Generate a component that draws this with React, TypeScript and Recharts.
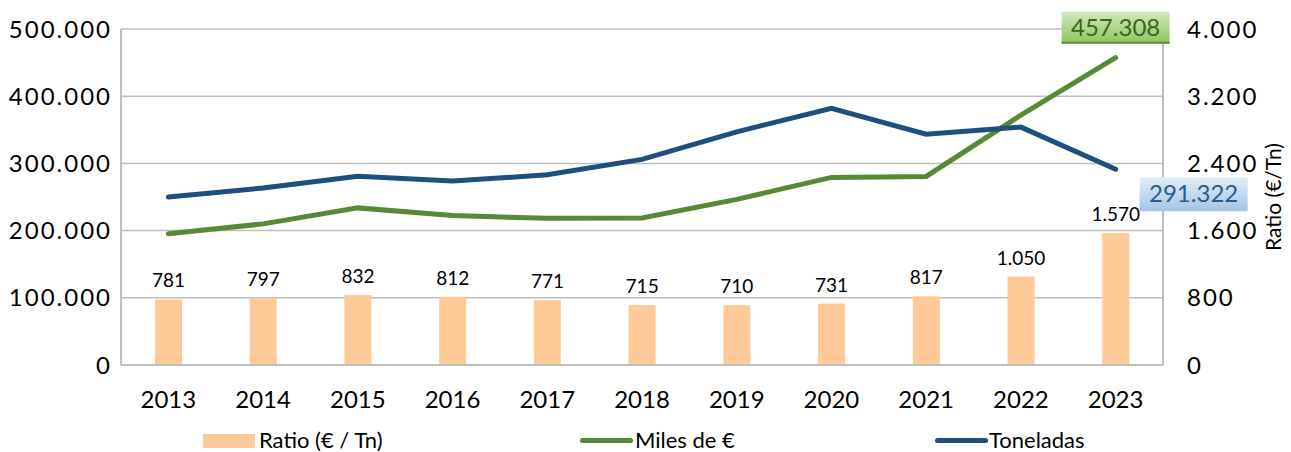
import React from 'react';
import { ComposedChart, Bar, Line, XAxis, YAxis, CartesianGrid, LabelList } from 'recharts';

const years = ['2013', '2014', '2015', '2016', '2017', '2018', '2019', '2020', '2021', '2022', '2023'];
const ratio = [781, 797, 832, 812, 771, 715, 710, 731, 817, 1050, 1570];
const miles = [195300, 210000, 233800, 222300, 218200, 218800, 246400, 279200, 280600, 371700, 457308];
const toneladas = [250100, 263400, 281000, 273800, 283000, 306000, 347000, 382000, 343500, 354000, 291322];
const leftTicks = [0, 100000, 200000, 300000, 400000, 500000];
const rightTicks = [0, 800, 1600, 2400, 3200, 4000];

const chartData = years.map((y, i) => ({
  year: y,
  ratio: ratio[i],
  miles: miles[i],
  toneladas: toneladas[i],
}));

const FONT = 'Lato, "Open Sans", sans-serif';
const GREEN = '#578a33';
const BLUE = '#1f4f7e';
const PEACH = '#ffca97';
const GRID = '#bfbfbf';

// thousands with "." like the spanish excel format
const fmt = (v: number) => String(Math.round(v)).replace(/\B(?=(\d{3})+(?!\d))/g, '.');

const lastIdx = years.length - 1;

function GreenEnd(props: any) {
  const { x, y, index, value } = props;
  if (index !== lastIdx) return null;
  const w = 108, h = 32;
  const cx = x, cy = y - 30;
  return (
    <g>
      <rect x={cx - w / 2} y={cy - h / 2} width={w} height={h} fill="url(#gGreen)" />
      <rect x={cx - w / 2} y={cy + h / 2 - 2} width={w} height={2} fill="#5f8f3a" />
      <text x={cx} y={cy + 8} textAnchor="middle" fontSize={24} fill="#3b6523" fontFamily={FONT}>
        {fmt(value)}
      </text>
    </g>
  );
}

function BlueEnd(props: any) {
  const { x, y, index, value } = props;
  if (index !== lastIdx) return null;
  const w = 108, h = 34;
  const cx = x + 78, cy = y + 25;
  return (
    <g>
      <rect x={cx - w / 2} y={cy - h / 2} width={w} height={h} fill="url(#gBlue)" />
      <text x={cx} y={cy + 8} textAnchor="middle" fontSize={24} fill="#2a5a8a" fontFamily={FONT}>
        {fmt(value)}
      </text>
    </g>
  );
}

function RightTitle(props: any) {
  const { viewBox } = props;
  const x = viewBox.x + 109;
  const y = viewBox.y + viewBox.height / 2;
  return (
    <text x={x} y={y} transform={`rotate(-90 ${x} ${y})`} textAnchor="middle" dominantBaseline="central"
      fontSize={21} fill="#000" fontFamily={FONT}>
      Ratio (€/Tn)
    </text>
  );
}

function LegendBox() {
  const txt: React.CSSProperties = { position: 'absolute', top: 0, fontSize: 22, lineHeight: '28px', fontFamily: FONT, color: '#000', whiteSpace: 'nowrap' };
  return (
    <div style={{ position: 'absolute', left: 0, top: 426, width: 1291, height: 28 }}>
      <div style={{ position: 'absolute', left: 203, top: 8, width: 52, height: 14, background: PEACH }} />
      <div style={{ ...txt, left: 259 }}>Ratio (€ / Tn)</div>
      <div style={{ position: 'absolute', left: 580, top: 12, width: 53, height: 5, borderRadius: 3, background: GREEN }} />
      <div style={{ ...txt, left: 635 }}>Miles de €</div>
      <div style={{ position: 'absolute', left: 935, top: 12, width: 53, height: 5, borderRadius: 3, background: BLUE }} />
      <div style={{ ...txt, left: 989 }}>Toneladas</div>
    </div>
  );
}

export default function App() {
  return (
    <div style={{ position: 'absolute', left: 0, top: 0, width: 1291, height: 452, background: '#fff' }}>
      <ComposedChart width={1291} height={452} data={chartData} margin={{ top: 29, right: 0, bottom: 57, left: 0 }}>
        <defs>
          <linearGradient id="gGreen" x1="0" y1="0" x2="0" y2="1">
            <stop offset="0%" stopColor="#d3e8bd" />
            <stop offset="100%" stopColor="#8fc45d" />
          </linearGradient>
          <linearGradient id="gBlue" x1="0" y1="0" x2="0" y2="1">
            <stop offset="0%" stopColor="#e2ecf7" />
            <stop offset="100%" stopColor="#a3c5e8" />
          </linearGradient>
        </defs>
        <CartesianGrid vertical={false} stroke={GRID} strokeWidth={1.5} yAxisId="left" />
        <XAxis
          dataKey="year"
          height={30}
          axisLine={{ stroke: GRID, strokeWidth: 2 }}
          tickLine={false}
          tickMargin={20}
          tick={{ fontSize: 24, fill: '#000', fontFamily: FONT }}
        />
        <YAxis
          yAxisId="left"
          orientation="left"
          width={121}
          domain={[0, 500000]}
          ticks={leftTicks}
          tickFormatter={fmt}
          axisLine={{ stroke: GRID, strokeWidth: 2 }}
          tickLine={false}
          tickMargin={3}
          tick={{ fontSize: 24, fill: '#000', fontFamily: FONT, letterSpacing: 2 }}
        />
        <YAxis
          yAxisId="right"
          orientation="right"
          width={128}
          domain={[0, 4000]}
          ticks={rightTicks}
          tickFormatter={fmt}
          axisLine={{ stroke: GRID, strokeWidth: 2 }}
          tickLine={false}
          tickMargin={18}
          tick={{ fontSize: 24, fill: '#000', fontFamily: FONT, textAnchor: 'start', letterSpacing: 2 }}
          label={<RightTitle />}
        />
        <Bar yAxisId="right" dataKey="ratio" fill={PEACH} barSize={27} isAnimationActive={false}>
          <LabelList dataKey="ratio" position="top" offset={12} formatter={(v: any) => fmt(Number(v))}
            style={{ fontSize: 19, fill: '#000', fontFamily: FONT }} />
        </Bar>
        <Line yAxisId="left" dataKey="miles" stroke={GREEN} strokeWidth={5} dot={false} strokeLinecap="round"
          isAnimationActive={false}>
          <LabelList dataKey="miles" content={<GreenEnd />} />
        </Line>
        <Line yAxisId="left" dataKey="toneladas" stroke={BLUE} strokeWidth={5} dot={false} strokeLinecap="round"
          isAnimationActive={false}>
          <LabelList dataKey="toneladas" content={<BlueEnd />} />
        </Line>
      </ComposedChart>
      <LegendBox />
    </div>
  );
}
